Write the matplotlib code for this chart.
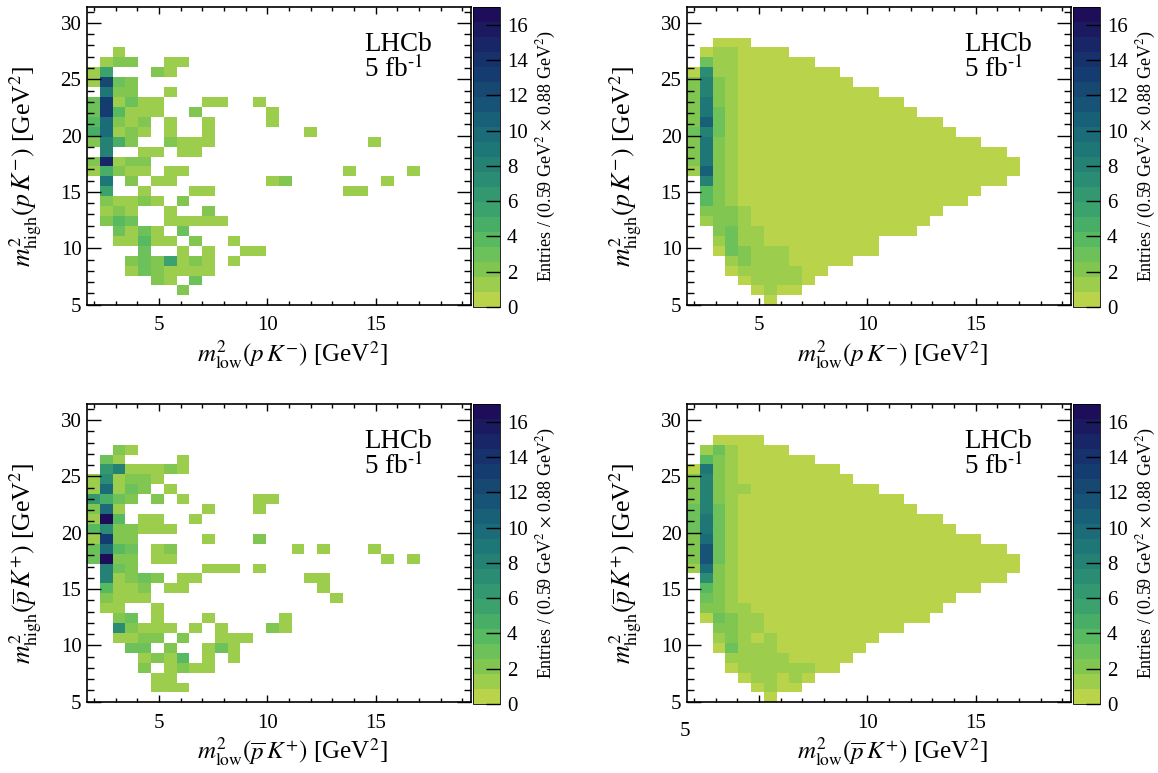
import numpy as np
import matplotlib
matplotlib.use("Agg")
import matplotlib.pyplot as plt
from matplotlib.colors import ListedColormap, BoundaryNorm
from matplotlib.ticker import MultipleLocator, FixedLocator

plt.rcParams['font.family'] = ['Liberation Serif', 'DejaVu Serif']
plt.rcParams['mathtext.fontset'] = 'stix'

W, H = 1158, 773
X_START, X_STEP, N_X = 1.68, 0.59, 30
Y_START, Y_STEP, N_Y = 4.94, 0.88, 30
Z_MAX = 17
N_LEVELS = 20

level_colors = ['#b9d44b', '#9dcd4c', '#80c651', '#6cc15a', '#57b960', '#48ae67', '#3ca26d', '#33976f',
                '#2a8c72', '#248174', '#1f7676', '#1b6b78', '#186078', '#175376', '#164872', '#153c70',
                '#16316c', '#182566', '#1b1a60', '#1e0d58']

# row index (from bottom) -> {first column: [entries in consecutive columns]}
data_pk = {
    25: {2: [1]},
    24: {1: [1, 2, 2], 6: [1, 1]},
    23: {0: [1, 5.6], 5: [2, 1]},
    22: {0: [1, 12, 3, 2]},
    21: {1: [9, 2, 2], 6: [1]},
    20: {0: [3, 13, 1, 3, 1, 1], 9: [1, 1], 13: [1]},
    19: {0: [3, 13, 4, 1, 1, 1], 8: [2], 14: [1]},
    18: {0: [4, 10, 2, 1, 2], 6: [1], 9: [1], 14: [1]},
    17: {0: [5, 10, 1, 2, 1], 6: [1], 9: [1], 17: [1]},
    16: {0: [2, 8, 5, 2], 6: [2, 1, 1, 1], 22: [1]},
    15: {1: [8], 4: [1, 1], 7: [1, 1]},
    14: {0: [2, 15, 1, 2, 2]},
    13: {0: [1, 5, 2, 1, 1], 6: [1, 1], 20: [1], 25: [1]},
    12: {1: [9], 3: [2], 5: [1, 1], 14: [1, 2], 23: [1]},
    11: {1: [5.6], 4: [1], 8: [1, 1], 20: [1, 1]},
    10: {1: [2, 1, 1, 2, 1], 7: [2]},
    9: {1: [1, 2, 1], 6: [1], 9: [2]},
    8: {1: [2, 4, 3], 6: [1, 1, 1, 1, 1]},
    7: {2: [3, 1, 3, 1], 7: [3]},
    6: {2: [1, 1, 4, 1, 1], 8: [2], 11: [1]},
    5: {4: [3], 7: [1], 9: [1], 12: [1, 1]},
    4: {3: [2, 3, 2, 5.6, 1, 2, 1], 11: [1]},
    3: {3: [1, 3, 2, 1, 1, 1, 1]},
    2: {5: [2, 1], 8: [3]},
    1: {7: [2]},
}

data_pbark = {
    25: {2: [2, 1]},
    24: {1: [3, 1], 7: [1]},
    23: {1: [6, 8, 1, 1, 1, 2, 1]},
    22: {0: [1, 7, 1, 2, 2, 1]},
    21: {0: [1, 10, 1, 3, 2], 6: [1]},
    20: {0: [6, 5, 3, 2], 5: [2], 7: [1], 13: [1, 1]},
    19: {0: [2, 10, 1], 9: [1], 13: [1]},
    18: {0: [1, 17, 4], 4: [1, 1], 8: [1]},
    17: {0: [4, 7, 2, 2, 1, 1, 1]},
    16: {0: [1, 13, 2, 2], 9: [1], 13: [2]},
    15: {0: [3, 10, 4, 3], 5: [1, 2], 16: [1], 18: [1], 22: [1]},
    14: {0: [3, 17, 2, 2], 5: [1, 1], 23: [1], 25: [1]},
    13: {1: [8, 3, 2], 9: [1, 1, 1], 13: [1]},
    12: {1: [8, 1, 2, 3, 2], 7: [1, 1], 17: [1, 1]},
    11: {1: [4, 1, 1, 2], 6: [1, 1], 18: [1]},
    10: {1: [2, 1, 1, 1], 19: [1]},
    9: {1: [1, 1], 5: [1]},
    8: {2: [2, 3], 5: [1], 9: [1], 15: [1]},
    7: {2: [7, 2, 1, 1, 1], 8: [1], 10: [1], 14: [2, 1]},
    6: {2: [1, 1, 2, 2], 7: [2], 10: [1, 1, 1]},
    5: {3: [3, 3], 6: [2], 9: [1, 3, 1]},
    4: {4: [1, 2, 1, 4], 9: [1], 11: [1]},
    3: {4: [2], 6: [1, 2, 1, 1]},
    2: {5: [1, 1]},
    1: {5: [1, 1, 1]},
}

# row index -> (first column, leading fit values, last filled column); the remainder is the flat background
fit_bg = 0.4
fit_pk = {
    26: (2, [], 4),
    25: (1, [0.4, 1.3, 1.3], 7),
    24: (1, [3.0, 1.3, 1.3], 9),
    23: (0, [0.4, 7.2, 1.3, 1.3], 11),
    22: (0, [2.1, 8.1, 2.1, 1.3], 12),
    21: (0, [2.1, 8.1, 2.1, 1.3], 14),
    20: (0, [2.1, 8.9, 2.1, 1.3], 16),
    19: (0, [2.1, 8.9, 3.0, 1.3], 17),
    18: (0, [2.1, 10.6, 3.0, 1.3], 19),
    17: (0, [3.0, 8.1, 3.0, 1.3], 20),
    16: (0, [2.1, 8.9, 2.1, 1.3], 22),
    15: (0, [2.1, 8.9, 2.1, 1.3], 24),
    14: (0, [2.1, 8.9, 2.1, 1.3], 25),
    13: (0, [1.3, 10.6, 2.1, 1.3], 25),
    12: (1, [8.1, 2.1, 1.3], 24),
    11: (1, [3.8, 2.1, 1.3], 22),
    10: (1, [3.8, 2.1, 1.3], 21),
    9: (1, [2.1, 2.1, 2.1, 1.3], 19),
    8: (1, [1.3, 2.1, 2.1, 1.3], 18),
    7: (2, [2.1, 3.0, 1.3, 1.3], 17),
    6: (2, [1.3, 3.0, 1.3, 1.3], 14),
    5: (2, [0.4, 3.0, 2.1, 1.3, 1.3, 1.3], 14),
    4: (3, [1.3, 2.1, 1.3, 1.3, 1.3], 12),
    3: (3, [0.4, 1.3, 1.3, 1.3, 1.3, 1.3], 10),
    2: (4, [0.4, 1.3, 1.3, 1.3, 1.3], 9),
    1: (5, [0.4, 1.3], 8),
    0: (6, [], 6),
}

fit_pbark = {
    26: (2, [], 5),
    25: (1, [1.3, 3.0, 1.3], 7),
    24: (1, [3.8, 2.1, 1.3], 9),
    23: (0, [0.4, 8.9, 2.1, 1.3], 11),
    22: (0, [2.1, 8.1, 2.1, 1.3], 12),
    21: (0, [2.1, 8.1, 2.1, 1.3, 1.3], 14),
    20: (0, [2.1, 8.1, 2.1, 1.3], 16),
    19: (0, [3.0, 8.1, 3.0, 1.3], 17),
    18: (0, [3.0, 8.9, 3.0, 1.3], 19),
    17: (0, [3.0, 8.9, 3.0, 1.3], 20),
    16: (0, [2.1, 9.8, 3.0, 1.3], 22),
    15: (0, [2.1, 11.4, 3.0, 1.3], 24),
    14: (0, [2.1, 11.4, 3.0, 1.3], 25),
    13: (0, [1.3, 9.8, 2.1, 1.3], 25),
    12: (1, [7.2, 2.1, 1.3], 24),
    11: (1, [3.8, 2.1, 1.3], 22),
    10: (1, [3.0, 2.1, 1.3], 20),
    9: (1, [2.1, 2.1, 1.3, 1.3], 19),
    8: (1, [0.4, 3.0, 2.1, 1.3, 1.3], 18),
    7: (2, [2.1, 2.1, 1.3, 1.3], 16),
    6: (2, [1.3, 2.1, 1.3, 0.4, 1.3], 14),
    5: (2, [0.4, 3.0, 1.3, 1.3, 1.3], 13),
    4: (3, [1.3, 1.3, 1.3, 1.3, 1.3], 12),
    3: (3, [0.4, 1.3, 1.3, 1.3, 1.3, 1.3, 1.3], 11),
    2: (4, [0.4, 1.3, 1.3, 0.4, 1.3, 0.4], 9),
    1: (5, [0.4, 1.3], 8),
    0: (6, [], 6),
}

x_ticks = [5, 10, 15]
y_ticks = [5, 10, 15, 20, 25, 30]
cbar_ticks = [0, 2, 4, 6, 8, 10, 12, 14, 16]


def sparse_grid(rows):
    grid = np.full((N_Y, N_X), np.nan)
    for r, runs in rows.items():
        for c0, vals in runs.items():
            grid[r, c0:c0 + len(vals)] = vals
    return grid


def fit_grid(rows):
    grid = np.full((N_Y, N_X), np.nan)
    for r, (c0, vals, c1) in rows.items():
        grid[r, c0:c1 + 1] = fit_bg
        grid[r, c0:c0 + len(vals)] = vals
    return grid


x_edges = X_START + X_STEP * np.arange(N_X + 1)
y_edges = Y_START + Y_STEP * np.arange(N_Y + 1)
cmap = ListedColormap(level_colors)
cmap.set_bad('white')
norm = BoundaryNorm(np.linspace(0, Z_MAX, N_LEVELS + 1), N_LEVELS)

fig = plt.figure(figsize=(W / 100, H / 100), dpi=100)

XL_PK = r'$m^{2}_{\mathrm{low}}(p\,K^{-})$ [GeV$^{2}$]'
YL_PK = r'$m^{2}_{\mathrm{high}}(p\,K^{-})$ [GeV$^{2}$]'
XL_PB = r'$m^{2}_{\mathrm{low}}(\overline{p}\,K^{+})$ [GeV$^{2}$]'
YL_PB = r'$m^{2}_{\mathrm{high}}(\overline{p}\,K^{+})$ [GeV$^{2}$]'
CB_LABEL = r'Entries / (0.59 GeV$^{2}$ $\times$ 0.88 GeV$^{2}$)'

panels = [
    (87, 305.3, sparse_grid(data_pk), XL_PK, YL_PK),
    (687, 305.3, fit_grid(fit_pk), XL_PK, YL_PK),
    (87, 702.4, sparse_grid(data_pbark), XL_PB, YL_PB),
    (687, 702.4, fit_grid(fit_pbark), XL_PB, YL_PB),
]

for i, (left, bottom, grid, xl, yl) in enumerate(panels):
    ax = fig.add_axes([left / W, 1 - bottom / H, 383.7 / W, 298.6 / H])
    mesh = ax.pcolormesh(x_edges, y_edges, np.ma.masked_invalid(grid), cmap=cmap, norm=norm, linewidth=0)
    ax.set_xlim(X_START, X_START + X_STEP * N_X)
    ax.set_ylim(Y_START, 31.44)
    ax.xaxis.set_major_locator(FixedLocator(x_ticks))
    ax.yaxis.set_major_locator(FixedLocator(y_ticks))
    ax.xaxis.set_minor_locator(MultipleLocator(1))
    ax.yaxis.set_minor_locator(MultipleLocator(1))
    ax.tick_params(axis='both', which='both', direction='in', top=True, right=True, width=1.0, labelsize=15)
    ax.tick_params(axis='x', which='major', length=5.2, pad=8)
    ax.tick_params(axis='x', which='minor', length=2.6)
    ax.tick_params(axis='y', which='major', length=10, pad=4)
    ax.tick_params(axis='y', which='minor', length=5)
    for s in ax.spines.values():
        s.set_linewidth(1.2)
    if i == 3:
        ax.set_xticks(x_ticks, ['', '10', '15'])
        fig.text(685 / W, 1 - 731 / H, '5', fontsize=15, ha='center', va='center')

    cax = fig.add_axes([(left + 385.7) / W, 1 - (bottom + 1.5) / H, 27.3 / W, 299.6 / H])
    cb = fig.colorbar(mesh, cax=cax, ticks=cbar_ticks, spacing='proportional')
    cb.ax.tick_params(which='major', direction='in', length=10, width=1.0, labelsize=15, pad=5, right=True)
    cb.ax.minorticks_off()
    cb.outline.set_linewidth(0.6)

    fig.text((left + 459) / W, 1 - (bottom - 149) / H, CB_LABEL, fontsize=13, rotation=90,
             ha='center', va='center')
    fig.text((left + 301) / W, 1 - (bottom + 57) / H, xl, fontsize=18, ha='right', va='baseline')
    fig.text((left - 61) / W, 1 - (bottom - 240) / H, yl, fontsize=18.5, rotation=90, ha='center', va='top')
    fig.text((left + 277) / W, 1 - (bottom - 254) / H, 'LHCb', fontsize=19.5, ha='left', va='baseline')
    fig.text((left + 277) / W, 1 - (bottom - 228) / H, r'5 fb$^{\mathrm{\text{-}1}}$', fontsize=19.5,
             ha='left', va='baseline')

fig.savefig('out.png', dpi=100)
